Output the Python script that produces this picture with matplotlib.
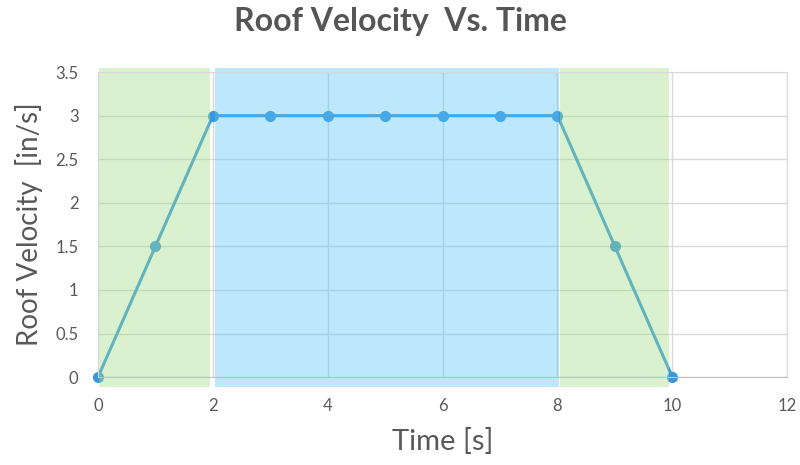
import matplotlib
matplotlib.use("Agg")
import matplotlib.pyplot as plt

plt.rcParams['font.family'] = ['Lato', 'DejaVu Sans']

# data
time_s = [0, 1, 2, 3, 4, 5, 6, 7, 8, 9, 10]
velocity = [0, 1.5, 3, 3, 3, 3, 3, 3, 3, 1.5, 0]

# phase regions (accelerate, constant, decelerate)
phase_start = [0.02, 2.03, 8.05]
phase_end = [1.95, 8.02, 9.95]
phase_color = ["#a2de89", "#5ac5f5", "#a2de89"]

x_ticks = [0, 2, 4, 6, 8, 10, 12]
y_ticks = [0, 0.5, 1, 1.5, 2, 2.5, 3, 3.5]

fig = plt.figure(figsize=(8, 4.65), dpi=100)
ax = fig.add_axes([0.1225, 0.189, 0.8615, 0.656])

ax.plot(time_s, velocity, color="#3a97df", linewidth=2.2, marker="o",
        markersize=7, zorder=1, clip_on=False)

for a, b, c in zip(phase_start, phase_end, phase_color):
    ax.fill_between([a, b], -0.11, 3.55, color=c, alpha=0.4, linewidth=0,
                    zorder=2, clip_on=False)

ax.set_xlim(0, 12)
ax.set_ylim(0, 3.5)
ax.set_xticks(x_ticks)
ax.set_yticks(y_ticks)
ax.set_yticklabels([f"{v:g}" for v in y_ticks])
ax.set_axisbelow(True)
ax.grid(True, color="#d9d9d9", linewidth=1)
ax.tick_params(length=0, colors="#595959", labelsize=12)
ax.tick_params(axis="x", pad=15)
ax.tick_params(axis="y", pad=14)
for s in ax.spines.values():
    s.set_color("#d9d9d9")
ax.spines["bottom"].set_color("#bfbfbf")

# title is centred on the figure, not the plot area
fig.suptitle("Roof Velocity  Vs. Time", x=0.5, y=0.985, va="top", fontsize=23,
             fontweight="bold", color="#555555")
ax.set_xlabel("Time [s]", fontsize=21, color="#595959", labelpad=10)
ax.set_ylabel("Roof Velocity  [in/s]", fontsize=20, color="#595959", labelpad=9)

fig.savefig("out.png", dpi=100)
